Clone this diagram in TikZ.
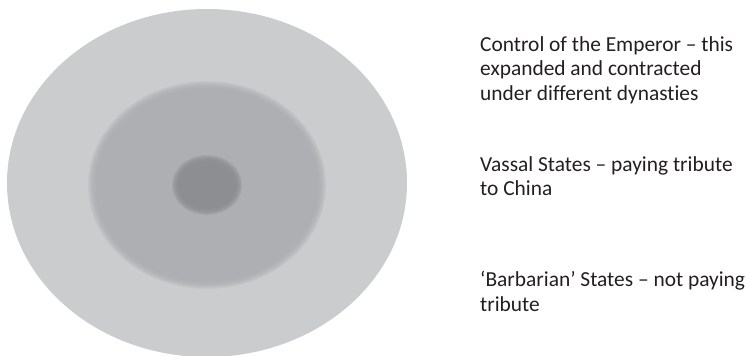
\documentclass[tikz,border=0pt]{standalone}
\usepackage{fontspec}
\setmainfont{Carlito}[RawFeature=-liga]
\definecolor{outerg}{HTML}{CBCCCE}
\definecolor{midg}{HTML}{ABACAF}
\definecolor{innerg}{HTML}{8A8B8F}
\definecolor{txt}{HTML}{231F20}
\begin{document}
\begin{tikzpicture}[x=1pt,y=-1pt,
  lbl/.style={anchor=north west,inner sep=0pt,align=left,text=txt,
    font=\fontsize{21.4}{24.5}\selectfont}]
\useasboundingbox (0,0) rectangle (747,356);
% outer zone
\fill[outerg] (207,183) ellipse [x radius=200,y radius=174];
% middle zone with soft edge
\foreach \d in {4,3,...,-4}{
  \fill[midg,fill opacity=0.2] (207,185) ellipse [x radius=115+\d,y radius=100+\d];
}
% inner zone with soft edge
\foreach \d in {3,2,...,-3}{
  \fill[innerg,fill opacity=0.25] (207,185) ellipse [x radius=32+\d,y radius=27+\d];
}
\node[lbl] (emp) at (480,36) {Control of the Emperor – this\\expanded and contracted\\under different dynasties};
\node[lbl] (vas) at (480,156) {Vassal States – paying tribute\\to China};
\node[lbl] (bar) at (480,271) {‘Barbarian’ States – not paying\\tribute};
\end{tikzpicture}
\end{document}
